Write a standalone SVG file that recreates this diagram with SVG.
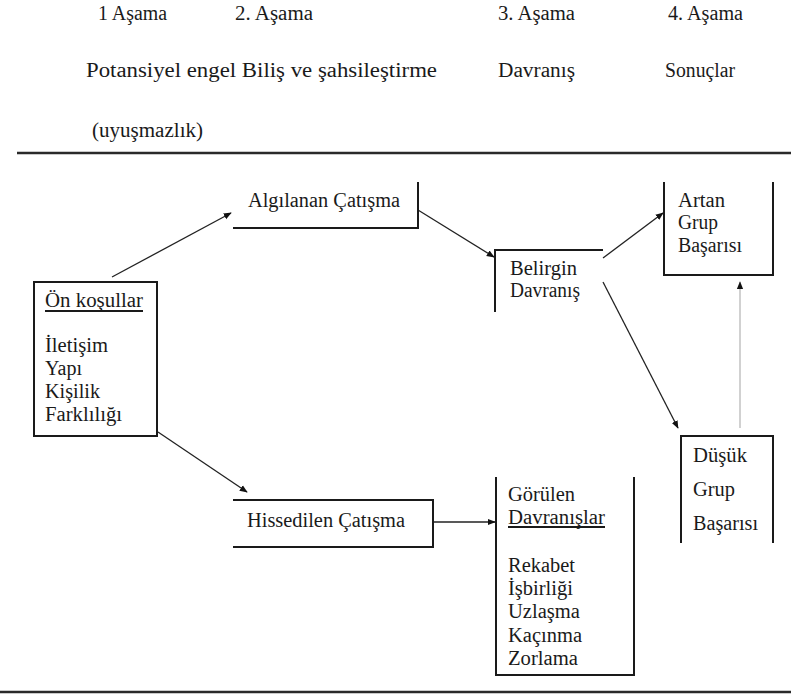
<svg xmlns="http://www.w3.org/2000/svg" width="791" height="695" viewBox="0 0 791 695">
<style>
text{font-family:'Liberation Serif','Tinos','DejaVu Serif','Times New Roman',serif;font-size:20px;fill:#1a1a1a}
.box{fill:none;stroke:#1a1a1a;stroke-width:2}
.rule{stroke:#2a2a2a;stroke-width:2.5}
.conn{stroke:#222;stroke-width:1.3;fill:none;marker-end:url(#ah)}
.gray{stroke:#b8b8b8;stroke-width:1.3;fill:none;marker-end:url(#ah)}
.ul{stroke:#1a1a1a;stroke-width:1.8}
</style>
<defs>
<marker id="ah" viewBox="0 0 10 10" refX="9" refY="5" markerWidth="8" markerHeight="8" markerUnits="userSpaceOnUse" orient="auto">
<path d="M0,1 L10,5 L0,9 Z" fill="#111"/>
</marker>
</defs>
<rect width="791" height="695" fill="#fff"/>
<g id="header">
<text x="98" y="20" textLength="69" lengthAdjust="spacingAndGlyphs">1 Aşama</text>
<text x="235" y="20" textLength="78" lengthAdjust="spacingAndGlyphs">2. Aşama</text>
<text x="498" y="20" textLength="77" lengthAdjust="spacingAndGlyphs">3. Aşama</text>
<text x="668" y="20" textLength="75" lengthAdjust="spacingAndGlyphs">4. Aşama</text>
<text x="86" y="77" textLength="351" lengthAdjust="spacingAndGlyphs">Potansiyel engel Biliş ve şahsileştirme</text>
<text x="498" y="77" textLength="77" lengthAdjust="spacingAndGlyphs">Davranış</text>
<text x="665" y="77" textLength="70" lengthAdjust="spacingAndGlyphs">Sonuçlar</text>
<text x="92" y="137" textLength="111" lengthAdjust="spacingAndGlyphs">(uyuşmazlık)</text>
<line class="rule" x1="17" y1="153" x2="791" y2="153"/>
<line class="rule" x1="0" y1="692" x2="791" y2="692"/>
</g>
<g id="connectors">
<line class="conn" x1="112" y1="277" x2="231" y2="213"/>
<line class="conn" x1="158" y1="432" x2="247" y2="492"/>
<line class="conn" x1="418" y1="210" x2="494" y2="257"/>
<line class="conn" x1="603" y1="258" x2="663" y2="213"/>
<line class="conn" x1="603" y1="282" x2="678" y2="428"/>
<line class="conn" x1="433" y1="522" x2="495" y2="522"/>
<line class="gray" x1="740" y1="428" x2="740" y2="282"/>
</g>
<g id="on-kosullar">
<rect class="box" x="34" y="282" width="123" height="154"/>
<text x="45" y="307" textLength="98" lengthAdjust="spacingAndGlyphs">Ön koşullar</text>
<line class="ul" x1="45" y1="311" x2="143" y2="311"/>
<text x="45" y="352" textLength="63" lengthAdjust="spacingAndGlyphs">İletişim</text>
<text x="45" y="375" textLength="37" lengthAdjust="spacingAndGlyphs">Yapı</text>
<text x="45" y="398" textLength="55" lengthAdjust="spacingAndGlyphs">Kişilik</text>
<text x="45" y="421" textLength="77" lengthAdjust="spacingAndGlyphs">Farklılığı</text>
</g>
<g id="algilanan">
<path class="box" d="M233,228 H418 V182"/>
<text x="248" y="207" textLength="152" lengthAdjust="spacingAndGlyphs">Algılanan Çatışma</text>
</g>
<g id="belirgin">
<path class="box" d="M603,250 H495 V312"/>
<text x="510" y="275" textLength="67" lengthAdjust="spacingAndGlyphs">Belirgin</text>
<text x="510" y="297" textLength="70" lengthAdjust="spacingAndGlyphs">Davranış</text>
</g>
<g id="artan">
<path class="box" d="M664,182 V275 H773 V182"/>
<text x="678" y="207" textLength="47" lengthAdjust="spacingAndGlyphs">Artan</text>
<text x="678" y="229" textLength="40" lengthAdjust="spacingAndGlyphs">Grup</text>
<text x="678" y="252" textLength="64" lengthAdjust="spacingAndGlyphs">Başarısı</text>
</g>
<g id="dusuk">
<path class="box" d="M681,543 V436 H773 V543"/>
<text x="693" y="462" textLength="54" lengthAdjust="spacingAndGlyphs">Düşük</text>
<text x="693" y="496" textLength="42" lengthAdjust="spacingAndGlyphs">Grup</text>
<text x="693" y="530" textLength="65" lengthAdjust="spacingAndGlyphs">Başarısı</text>
</g>
<g id="hissedilen">
<path class="box" d="M233,500 H433 V547 H233"/>
<text x="247" y="527" textLength="158" lengthAdjust="spacingAndGlyphs">Hissedilen Çatışma</text>
</g>
<g id="gorulen">
<path class="box" d="M496,477 V675 H634 V477"/>
<text x="508" y="501" textLength="67" lengthAdjust="spacingAndGlyphs">Görülen</text>
<text x="508" y="524" textLength="97" lengthAdjust="spacingAndGlyphs">Davranışlar</text>
<line class="ul" x1="508" y1="527" x2="605" y2="527"/>
<text x="508" y="572" textLength="67" lengthAdjust="spacingAndGlyphs">Rekabet</text>
<text x="508" y="595" textLength="65" lengthAdjust="spacingAndGlyphs">İşbirliği</text>
<text x="508" y="618" textLength="72" lengthAdjust="spacingAndGlyphs">Uzlaşma</text>
<text x="508" y="642" textLength="74" lengthAdjust="spacingAndGlyphs">Kaçınma</text>
<text x="508" y="665" textLength="70" lengthAdjust="spacingAndGlyphs">Zorlama</text>
</g>
</svg>
